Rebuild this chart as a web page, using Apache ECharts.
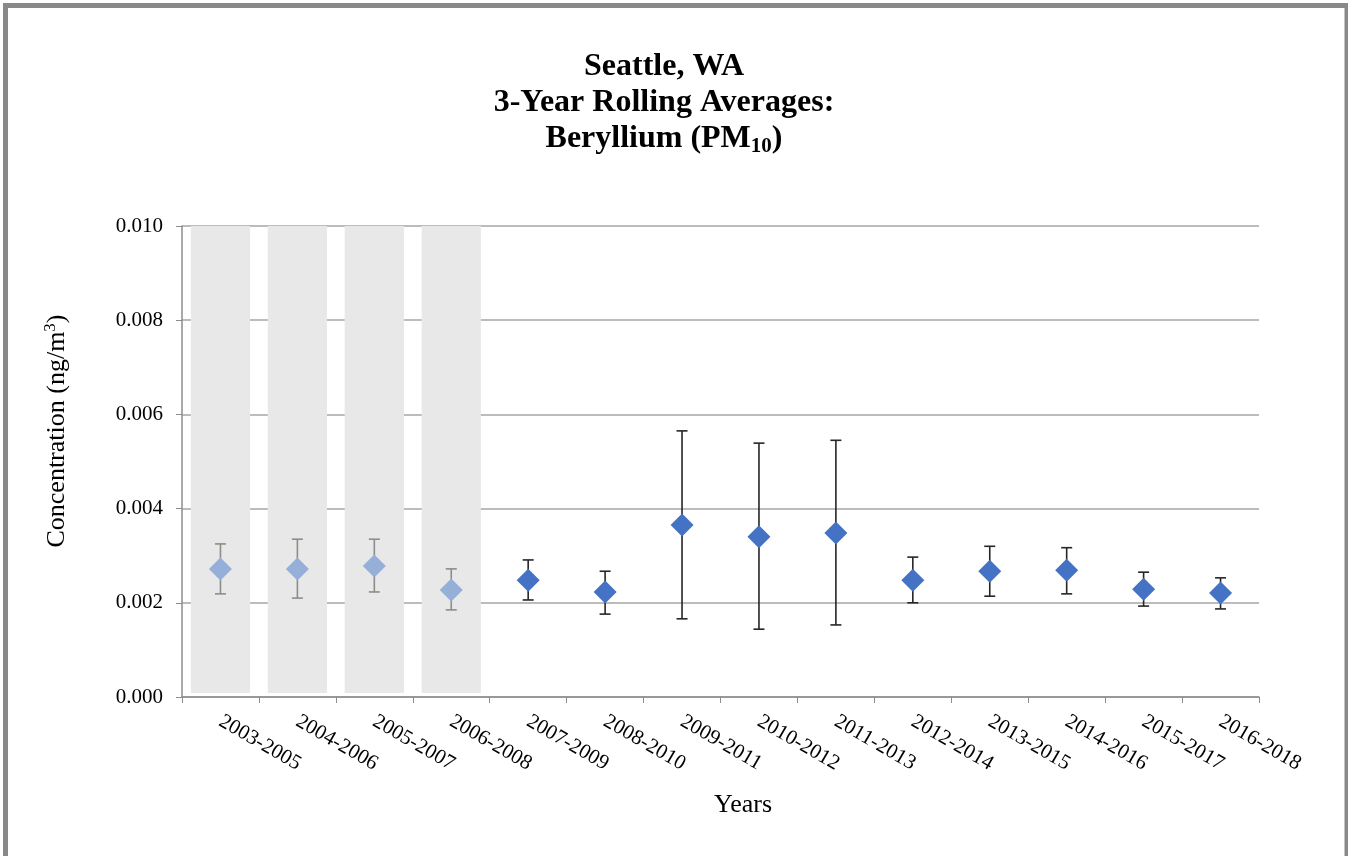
<!DOCTYPE html>
<html>
<head>
<meta charset="utf-8">
<script src="https://cdn.jsdelivr.net/npm/echarts@6/dist/echarts.min.js"></script>
<style>
html,body{margin:0;padding:0;background:#fff;}
#chart{width:1348px;height:856px;}
</style>
</head>
<body>
<div id="chart"></div>
<script>
// ---- data ----
const categories = ['2003-2005','2004-2006','2005-2007','2006-2008','2007-2009','2008-2010','2009-2011','2010-2012','2011-2013','2012-2014','2013-2015','2014-2016','2015-2017','2016-2018'];
const means = [0.00272,0.00272,0.00278,0.00227,0.00248,0.00223,0.00365,0.00340,0.00348,0.00248,0.00267,0.00269,0.00229,0.00221];
const upper = [0.00325,0.00335,0.00335,0.00272,0.00291,0.00267,0.00565,0.00539,0.00545,0.00297,0.00320,0.00317,0.00265,0.00253];
const lower = [0.00219,0.00210,0.00223,0.00185,0.00206,0.00176,0.00166,0.00144,0.00153,0.00200,0.00214,0.00219,0.00193,0.00187];
const shaded = [true,true,true,true,false,false,false,false,false,false,false,false,false,false];
const yTicks = [0.000,0.002,0.004,0.006,0.008,0.010];

const FONT = '"Liberation Serif","Times New Roman",serif';
const lightPt = '#95AFD8', darkPt = '#4472C4';
const lightErr = '#8C8C8C', darkErr = '#262626';

const chart = echarts.init(document.getElementById('chart'));

const option = {
  backgroundColor: '#fff',
  animation: false,
  graphic: [
    {
      type: 'rect', silent: true, z: 100,
      shape: {x: 5.5, y: 5.5, width: 1341.5, height: 860},
      style: {fill: 'none', stroke: '#898989', lineWidth: 5}
    },
    {
      type: 'text', silent: true, z: 50,
      x: 57, y: 431, rotation: Math.PI / 2,
      style: {
        text: '{n|Concentration (ng/m}{p|3}{n|)}',
        align: 'center', verticalAlign: 'middle',
        rich: {
          n: {fontFamily: FONT, fontSize: 26, fill: '#000', lineHeight: 30},
          p: {fontFamily: FONT, fontSize: 17, fill: '#000', verticalAlign: 'top', lineHeight: 30, padding: [0,0,12,0]}
        }
      }
    },
    {
      type: 'text', silent: true, z: 50,
      x: 743, y: 805,
      style: {
        text: 'Years', align: 'center', verticalAlign: 'middle',
        fontFamily: FONT, fontSize: 26, fill: '#000'
      }
    }
  ],
  title: {
    text: '{t|Seattle, WA}\n{t|3-Year Rolling Averages:}\n{t|Beryllium (PM}{s|10}{t|)}',
    left: 659, top: 44, textAlign: 'center',
    textStyle: {
      rich: {
        t: {fontFamily: FONT, fontWeight: 'bold', fontSize: 32, color: '#000', lineHeight: 36},
        s: {fontFamily: FONT, fontWeight: 'bold', fontSize: 21, color: '#000', verticalAlign: 'bottom', lineHeight: 36, padding: [14,0,0,0]}
      }
    }
  },
  grid: {left: 182, right: 89, top: 226, bottom: 159, containLabel: false},
  xAxis: {
    type: 'category',
    data: categories,
    boundaryGap: true,
    axisLine: {lineStyle: {color: '#8c8c8c', width: 1.5}},
    axisTick: {show: true, length: 6, lineStyle: {color: '#8c8c8c'}},
    axisLabel: {rotate: -30, fontFamily: FONT, fontSize: 21, color: '#000', margin: 23, interval: 0},
    splitLine: {show: false}
  },
  yAxis: {
    type: 'value',
    min: 0, max: 0.010, interval: 0.002,
    axisLine: {show: true, lineStyle: {color: '#8c8c8c', width: 1.5}},
    axisTick: {show: true, length: 6, lineStyle: {color: '#8c8c8c'}},
    axisLabel: {
      fontFamily: FONT, fontSize: 21, color: '#000', margin: 19,
      formatter: v => {
        const t = yTicks.find(x => Math.abs(x - v) < 1e-9);
        return (t !== undefined ? t : v).toFixed(3);
      }
    },
    splitLine: {show: true, lineStyle: {color: '#a6a6a6', width: 1.5}}
  },
  series: [
    {
      type: 'custom',
      name: 'bands',
      z: 1,
      silent: true,
      data: categories.map((c, i) => [i, shaded[i] ? 1 : 0]),
      renderItem: function (params, api) {
        if (!api.value(1)) return null;
        const idx = api.value(0);
        const top = api.coord([idx, 0.010]);
        const bot = api.coord([idx, 0]);
        const w = api.size([1, 0])[0] * 0.77;
        return {
          type: 'rect',
          shape: {x: top[0] - w / 2, y: top[1], width: w, height: bot[1] - 4 - top[1]},
          style: {fill: '#e8e8e8'}
        };
      }
    },
    {
      type: 'custom',
      name: 'errors',
      z: 3,
      silent: true,
      data: categories.map((c, i) => [i, lower[i], upper[i]]),
      renderItem: function (params, api) {
        const idx = api.value(0);
        const lo = api.coord([idx, api.value(1)]);
        const hi = api.coord([idx, api.value(2)]);
        const col = shaded[idx] ? lightErr : darkErr;
        const cap = 5.5;
        const st = {stroke: col, lineWidth: 1.6};
        return {
          type: 'group',
          children: [
            {type: 'line', shape: {x1: hi[0], y1: hi[1], x2: lo[0], y2: lo[1]}, style: st},
            {type: 'line', shape: {x1: hi[0] - cap, y1: hi[1], x2: hi[0] + cap, y2: hi[1]}, style: st},
            {type: 'line', shape: {x1: lo[0] - cap, y1: lo[1], x2: lo[0] + cap, y2: lo[1]}, style: st}
          ]
        };
      }
    },
    {
      type: 'scatter',
      name: 'mean',
      z: 5,
      symbol: 'diamond',
      symbolSize: [23, 23],
      data: means.map((v, i) => ({value: [i, v], itemStyle: {color: shaded[i] ? lightPt : darkPt, opacity: 1}}))
    }
  ]
};
chart.setOption(option);
</script>
</body>
</html>
